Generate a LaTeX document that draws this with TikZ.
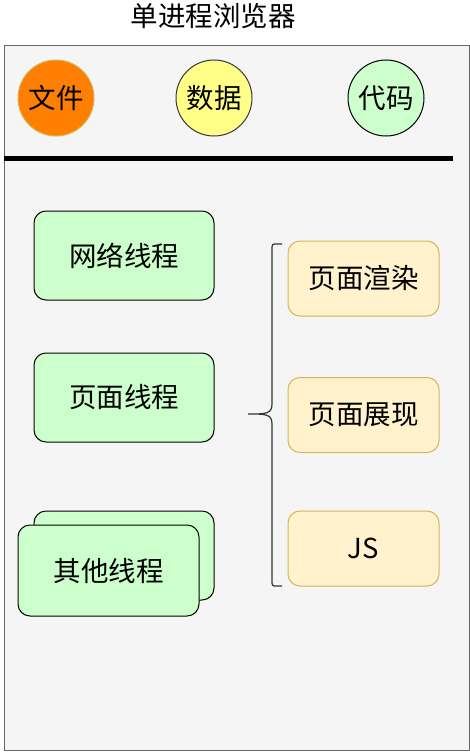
\documentclass[tikz,border=0pt]{standalone}
\usepackage{fontspec}
\setmainfont{Noto Sans CJK SC}
\begin{document}
\begin{tikzpicture}[x=1pt,y=-1pt,
  lbl/.style={font=\fontsize{27.5}{30}\selectfont},
  circ/.style={circle,minimum size=76pt,inner sep=0pt,line width=1pt,lbl},
  thread/.style={draw=black,fill=threadgreen,rounded corners=12pt,line width=1pt,minimum width=180pt,minimum height=89pt,inner sep=0pt,lbl},
  task/.style={draw=taskstroke,fill=taskfill,rounded corners=12pt,line width=1pt,minimum width=151pt,minimum height=75pt,inner sep=0pt,lbl}]
\definecolor{bgfill}{HTML}{F5F5F5}
\definecolor{bgstroke}{HTML}{666666}
\definecolor{threadgreen}{HTML}{CCFFCC}
\definecolor{taskfill}{HTML}{FFF2CC}
\definecolor{taskstroke}{HTML}{D6B656}
\definecolor{orangefill}{HTML}{FF8000}
\definecolor{yellowfill}{HTML}{FFFF88}
\definecolor{darkstroke}{HTML}{36393D}
\useasboundingbox (0,0) rectangle (470,752);
\fill[white] (0,0) rectangle (470,752);
\node[lbl] (title) at (213,16) {单进程浏览器};
\draw[bgstroke,fill=bgfill,line width=1pt] (4,46) rectangle (469,750);
\node[circ,draw=taskstroke,fill=orangefill] (file) at (56,98) {文件};
\node[circ,draw=darkstroke,fill=yellowfill] (data) at (214,98) {数据};
\node[circ,draw=black,fill=threadgreen] (code) at (386,98) {代码};
\draw[line width=5pt] (4,158) -- (453,158);
\node[thread] (net) at (124,255.5) {网络线程};
\node[thread] (page) at (124,397.5) {页面线程};
\node[thread,minimum width=180pt] (otherback) at (124,555.5) {};
\node[thread,minimum width=181pt,minimum height=91pt] (other) at (108.5,570.5) {其他线程};
\node[task] (render) at (363.5,278.5) {页面渲染};
\node[task] (show) at (363.5,415) {页面展现};
\node[task] (js) at (363.5,548.5) {JS};
\draw[line width=1.2pt,draw=black!80] (282,244) -- (277,244) .. controls (272,244) .. (272,250)
  -- (272,404) .. controls (272,414) and (266,414) .. (248,414)
  .. controls (266,414) and (272,414) .. (272,424)
  -- (272,580) .. controls (272,586) .. (277,586) -- (282,586);
\end{tikzpicture}
\end{document}
